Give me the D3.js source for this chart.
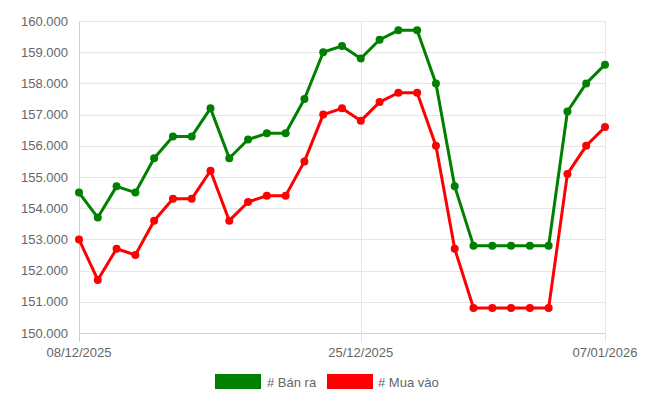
<!DOCTYPE html>
<html><head><meta charset="utf-8">
<script src="https://cdn.jsdelivr.net/npm/d3@7"></script>
<style>body{margin:0;background:#fff}svg{display:block}text{font-family:"Liberation Sans",Arial,Helvetica,sans-serif}</style>
</head><body>
<svg id="c" width="648" height="414"></svg>
<script>
const dates = ["08/12/2025","09/12/2025","10/12/2025","11/12/2025","12/12/2025","13/12/2025","15/12/2025","16/12/2025","17/12/2025","18/12/2025","19/12/2025","20/12/2025","22/12/2025","23/12/2025","24/12/2025","25/12/2025","26/12/2025","27/12/2025","28/12/2025","29/12/2025","30/12/2025","31/12/2025","01/01/2026","02/01/2026","03/01/2026","04/01/2026","05/01/2026","06/01/2026","07/01/2026"];
const banRa = [154.5,153.7,154.7,154.5,155.6,156.3,156.3,157.2,155.6,156.2,156.4,156.4,157.5,159.0,159.2,158.8,159.4,159.7,159.7,158.0,154.7,152.8,152.8,152.8,152.8,152.8,157.1,158.0,158.6];
const muaVao = [153.0,151.7,152.7,152.5,153.6,154.3,154.3,155.2,153.6,154.2,154.4,154.4,155.5,157.0,157.2,156.8,157.4,157.7,157.7,156.0,152.7,150.8,150.8,150.8,150.8,150.8,155.1,156.0,156.6];
const shownLabels = ["08/12/2025","25/12/2025","07/01/2026"];
const yTicks = [150,151,152,153,154,155,156,157,158,159,160];
const series = [
  {name:"# Bán ra", values: banRa, color:"#008000"},
  {name:"# Mua vào", values: muaVao, color:"#ff0000"}
];

const svg = d3.select("#c");
const L = 79, R = 605, T = 21, B = 333;
const x = d3.scalePoint().domain(dates).range([L, R]);
const y = d3.scaleLinear().domain([150, 160]).range([B, T]);

// horizontal grid
svg.append("g").selectAll("line").data(yTicks).join("line")
  .attr("x1", L).attr("x2", R)
  .attr("y1", d => Math.round(y(d)) + 0.5).attr("y2", d => Math.round(y(d)) + 0.5)
  .attr("stroke", d => d === 150 ? "#d0d0d0" : "#e6e6e6").attr("stroke-width", 1);

// vertical grid at shown labels
svg.append("g").selectAll("line").data(shownLabels).join("line")
  .attr("x1", d => Math.round(x(d)) + 0.5).attr("x2", d => Math.round(x(d)) + 0.5)
  .attr("y1", T).attr("y2", B + 9)
  .attr("stroke", (d, i) => i === 0 ? "#d0d0d0" : "#e6e6e6").attr("stroke-width", 1);

// y labels
svg.append("g").selectAll("text").data(yTicks).join("text")
  .attr("x", 68).attr("y", d => y(d)).attr("dy", "0.35em")
  .attr("text-anchor", "end").attr("font-size", 13).attr("fill", "#666")
  .text(d => d3.format(".3f")(d));

// x labels
svg.append("g").selectAll("text").data(shownLabels).join("text")
  .attr("x", d => x(d)).attr("y", 357)
  .attr("text-anchor", "middle").attr("font-size", 13).attr("fill", "#666")
  .text(d => d);

// lines
const line = d3.line().x((d, i) => x(dates[i])).y(d => y(d));
series.forEach(s => {
  svg.append("path").datum(s.values).attr("d", line)
    .attr("fill", "none").attr("stroke", s.color).attr("stroke-width", 3)
    .attr("stroke-linejoin", "round");
  svg.append("g").selectAll("circle").data(s.values).join("circle")
    .attr("cx", (d, i) => x(dates[i])).attr("cy", d => y(d)).attr("r", 4)
    .attr("fill", s.color);
});

// legend
const leg = [{x: 215, tx: 267}, {x: 327, tx: 378}];
series.forEach((s, i) => {
  svg.append("rect").attr("x", leg[i].x).attr("y", 374).attr("width", 46).attr("height", 15)
    .attr("fill", s.color);
  svg.append("text").attr("x", leg[i].tx).attr("y", 382).attr("dy", "0.35em")
    .attr("font-size", 13).attr("fill", "#666").text(s.name);
});
</script>
</body></html>
